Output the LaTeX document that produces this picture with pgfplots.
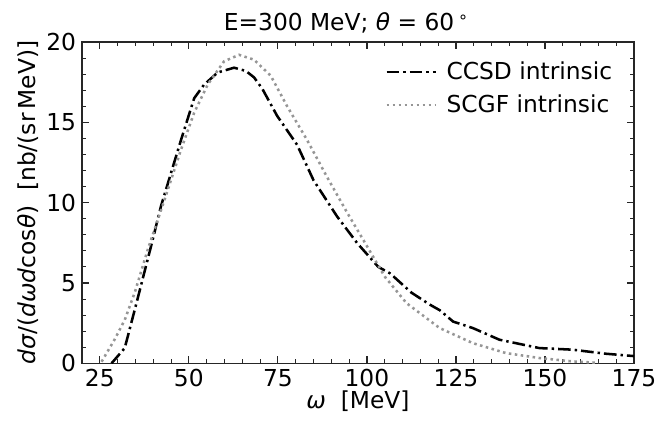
\documentclass[border=0pt]{standalone}
\usepackage{fontspec}
\setmainfont{DejaVu Sans}
\usepackage{pgfplots}
\pgfplotsset{compat=1.18}
\definecolor{axgray}{RGB}{38,38,38}
\definecolor{scgf}{RGB}{150,150,150}

\begin{document}
\begin{tikzpicture}[font=\fontsize{17.5}{20}\selectfont]
\begin{axis}[
    name=main,
    scale only axis,
    width=414pt, height=241pt,
    xmin=20, xmax=175, ymin=0, ymax=20,
    xtick={25,50,...,175}, ytick={0,5,...,20},
    minor x tick num=4, minor y tick num=4,
    tick align=inside,
    major tick length=5.5pt, minor tick length=3pt,
    every tick/.style={axgray, line width=0.9pt},
    minor tick style={line width=0.7pt},
    axis line style={axgray, line width=1pt},
    /pgf/number format/assume math mode=true,
    ticklabel style={font=\fontsize{17.5}{20}\selectfont},
    xticklabel style={yshift=-1pt},
    yticklabel style={xshift=-1pt},
    title={E=300 MeV; \textit{θ} = 60\,\raisebox{0.6ex}{\fontsize{12}{13}\selectfont ∘}},
    title style={yshift=-3pt, xshift=-9pt},
    xlabel={\textit{ω}\ \ [MeV]},
    ylabel={\textit{dσ}/(\textit{dωd}cos\textit{θ})\ \ [nb/(sr\,MeV)]},
    xlabel style={yshift=4pt},
    ylabel style={yshift=-1pt},
    legend style={draw=none, fill=none, at={(0.985,0.955)}, anchor=north east,
        font=\fontsize{17.5}{20}\selectfont, row sep=6pt},
    legend cell align=left,
    legend image code/.code={\draw[#1] (-14pt,0pt) -- (23pt,0pt);},
    legend style={nodes={inner xsep=7pt}},
]
\addplot[black, line width=1.9pt, line cap=butt,
    dash pattern=on 9.5pt off 3pt on 1.8pt off 3pt] coordinates {
    (28.3,0.0) (32.0,0.95) (35.3,3.75) (39.4,7.3) (42.2,9.8) (45.0,11.85)
    (47.8,13.9) (51.5,16.5) (54.3,17.35) (58.1,18.1) (62.7,18.4) (66.0,18.2)
    (68.3,17.8) (70.6,17.1) (74.8,15.4) (80.4,13.6) (85.0,11.4) (91.6,9.15)
    (97.2,7.5) (103.2,6.0) (106.5,5.6) (112.5,4.4) (117.7,3.65) (120.5,3.3)
    (124.2,2.6) (129.7,2.2) (137.2,1.47) (148.4,0.95) (157.7,0.85)
    (167.0,0.6) (175.0,0.45)
};
\addlegendentry{CCSD intrinsic}
\addplot[scgf, line width=1.9pt, line cap=butt,
    dash pattern=on 1.9pt off 2.6pt] coordinates {
    (25.5,0.1) (29.2,1.5) (32.0,2.7) (34.8,4.4) (38.5,7.1) (43.2,10.2)
    (47.8,13.3) (51.5,15.6) (55.3,17.35) (59.9,18.8) (64.1,19.2) (68.3,18.9)
    (73.0,17.9) (77.6,16.0) (83.2,13.9) (88.8,11.6) (94.4,9.4) (100.0,7.3)
    (105.0,5.4) (111.1,3.75) (120.4,2.2) (129.7,1.26) (139.0,0.64)
    (148.4,0.33) (157.7,0.12) (165.0,0.03)
};
\addlegendentry{SCGF intrinsic}
\end{axis}
\pgfresetboundingbox
\path[use as bounding box] ([xshift=-61.5pt,yshift=-44.5pt]main.south west)
    rectangle ([xshift=16.5pt,yshift=31.5pt]main.north east);
\end{tikzpicture}
\end{document}
